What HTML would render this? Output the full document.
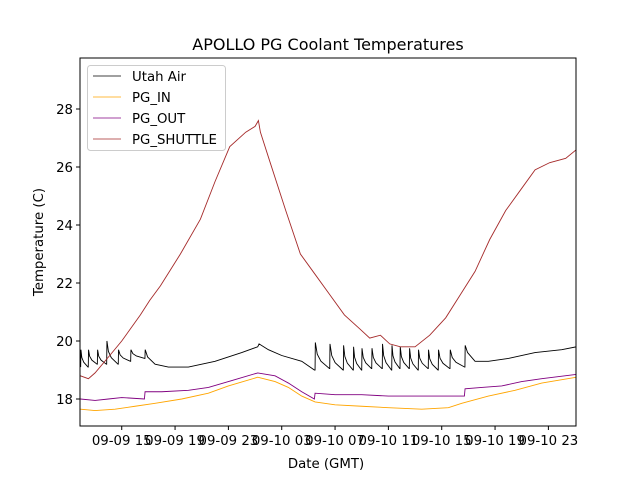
<!DOCTYPE html>
<html><head><meta charset="utf-8"><style>
body{margin:0;background:#fff}
svg{display:block;font-family:"DejaVu Sans","Liberation Sans",sans-serif}
</style></head><body>
<svg id="chart" width="640" height="480" viewBox="0 0 640 480">
<rect width="640" height="480" fill="#fff"/>
<text x="328" y="50" font-size="16" text-anchor="middle">APOLLO PG Coolant Temperatures</text>
<g id="ticks"></g>
<g id="series"></g>
<rect x="80" y="58" width="496" height="368" fill="none" stroke="#000" stroke-width="1"/>
<text x="326" y="468" font-size="13.3" text-anchor="middle">Date (GMT)</text>
<text x="43" y="242" font-size="13.3" text-anchor="middle" transform="rotate(-90 43 242)">Temperature (C)</text>
<g>
<rect x="87.5" y="65.5" width="138" height="85" rx="3" fill="#fff" fill-opacity="0.8" stroke="#ccc"/>
<g><line x1="93" y1="76" x2="121" y2="76" stroke="#000" stroke-width="0.7"/><text x="132" y="81" font-size="13.3">Utah Air</text></g>
<g><line x1="93" y1="97" x2="121" y2="97" stroke="#ffa500" stroke-width="0.7"/><text x="132" y="102" font-size="13.3">PG_IN</text></g>
<g><line x1="93" y1="118" x2="121" y2="118" stroke="#800080" stroke-width="0.7"/><text x="132" y="123" font-size="13.3">PG_OUT</text></g>
<g><line x1="93" y1="139" x2="121" y2="139" stroke="#a52a2a" stroke-width="0.7"/><text x="132" y="144" font-size="13.3">PG_SHUTTLE</text></g>
</g>
</svg>
<script>
// hours since 09-09 00:00 GMT
const xTickHours = [15, 19, 23, 27, 31, 35, 39, 43, 47];
const xTickLabels = ["09-09 15","09-09 19","09-09 23","09-10 03","09-10 07","09-10 11","09-10 15","09-10 19","09-10 23"];
const yTicks = [18, 20, 22, 24, 26, 28];
const shuttleT = [11.9,12.5,13.0,14.1,15.0,16.4,17.1,17.9,19.4,20.9,22.0,23.1,24.3,25.0,25.25,25.4,26.1,27.3,28.4,29.5,30.6,31.7,32.9,33.6,34.4,35.1,35.9,37.0,38.1,39.3,40.4,41.5,42.6,43.8,44.9,46.0,47.1,48.3,49.1];
const shuttleV = [18.8,18.7,18.9,19.5,20.0,20.9,21.4,21.9,23.0,24.2,25.5,26.7,27.2,27.4,27.6,27.2,26.2,24.5,23.0,22.3,21.6,20.9,20.4,20.1,20.2,19.9,19.8,19.8,20.2,20.8,21.6,22.4,23.5,24.5,25.2,25.9,26.15,26.3,26.6];
const airSpikeT = [11.92,12.49,13.17,13.87,14.74,15.67,16.74,29.5,30.6,31.62,32.37,33.0,33.75,34.54,35.25,35.87,36.57,37.24,37.99,38.74,39.62,40.74];
const airSpikeTop = [19.7,19.7,19.7,20.0,19.7,19.7,19.7,19.95,19.9,19.85,19.8,19.75,19.75,19.9,19.85,19.8,19.75,19.7,19.7,19.7,19.7,19.85];
const airSpikeLow = [19.1,19.1,19.2,19.2,19.2,19.3,19.4,19.0,19.05,19.0,19.0,19.0,19.05,19.05,19.0,19.05,19.05,19.0,19.05,19.0,19.05,19.1];
const airBaseT = [17.5,18.5,20.0,22.0,24.0,25.2,25.3,26.0,27.0,28.5,29.45,41.5,42.5,44.0,46.0,48.0,49.1];
const airBaseV = [19.2,19.1,19.1,19.3,19.6,19.8,19.9,19.7,19.5,19.3,19.0,19.3,19.3,19.4,19.6,19.7,19.8];
const outT = [11.9,13.0,14.0,15.0,16.7,16.75,18.0,20.0,21.5,23.0,25.2,26.5,27.5,28.5,29.45,29.5,31.0,33.0,35.0,37.0,39.0,40.7,40.75,42.0,43.5,45.0,46.5,49.1];
const outV = [18.0,17.95,18.0,18.05,18.0,18.25,18.25,18.3,18.4,18.6,18.9,18.8,18.55,18.25,18.0,18.2,18.15,18.15,18.1,18.1,18.1,18.1,18.35,18.4,18.45,18.6,18.7,18.85];
const inT = [11.9,13.0,14.5,16.0,17.5,19.5,21.5,23.0,25.2,26.5,27.5,28.5,29.5,31.0,33.0,35.0,37.5,39.5,40.5,42.5,44.5,46.5,49.1];
const inV = [17.65,17.6,17.65,17.75,17.85,18.0,18.2,18.45,18.75,18.6,18.4,18.1,17.9,17.8,17.75,17.7,17.65,17.7,17.85,18.1,18.3,18.55,18.75];

const NS = "http://www.w3.org/2000/svg";
const X0 = 80, X1 = 576, Y0 = 58, Y1 = 426;
const hMin = 11.87, hMax = 11.87 + 496 / 13.333;
const vMin = 18 - 27 / 29, vMax = 18 + 341 / 29;
const xs = h => X0 + (h - hMin) / (hMax - hMin) * (X1 - X0);
const ys = v => Y1 - (v - vMin) / (vMax - vMin) * (Y1 - Y0);

const tickG = document.getElementById('ticks');
function mk(tag, attrs, parent) { const e = document.createElementNS(NS, tag); for (const k in attrs) e.setAttribute(k, attrs[k]); parent.appendChild(e); return e; }
xTickHours.forEach((h, i) => {
  const x = xs(h);
  const l = mk('line', {x1: x, x2: x, y1: Y1, y2: Y1 + 4, stroke: '#000'}, tickG);
  
  
  const t = mk('text', {x: x, y: Y1 + 19, 'font-size': 13.3, 'text-anchor': 'middle'}, tickG);
  t.textContent = xTickLabels[i];
  
  
});
yTicks.forEach(v => {
  const y = ys(v);
  const l = mk('line', {x1: X0 - 4, x2: X0, y1: y, y2: y, stroke: '#000'}, tickG);
  
  
  const t = mk('text', {x: X0 - 7, y: y + 5, 'font-size': 13.3, 'text-anchor': 'end'}, tickG);
  t.textContent = v;
  
  
});

const sg = document.getElementById('series');
function line(T, V, color, name) {
  const d = T.map((t, i) => (i ? 'L' : 'M') + xs(t).toFixed(2) + ' ' + ys(V[i]).toFixed(2)).join(' ');
  const p = mk('path', {d: d, fill: 'none', stroke: color, 'stroke-width': 0.9, 'clip-path': 'url(#clip)'}, sg);
  
  
}
const defs = mk('defs', {}, sg);
const cp = mk('clipPath', {id: 'clip'}, defs);
mk('rect', {x: X0, y: Y0, width: X1 - X0, height: Y1 - Y0}, cp);

// build Utah Air sawtooth (fast drop then slow decay) from spike arrays + base curve
const airT = [], airV = [];
function addBase(from, to) { airBaseT.forEach((t, i) => { if (t > from && t < to) { airT.push(t); airV.push(airBaseV[i]); } }); }
airT.push(11.87); airV.push(19.3);
airSpikeT.forEach((t, i) => {
  airT.push(t); airV.push(airSpikeLow[i]);
  airT.push(t + 0.02); airV.push(airSpikeTop[i]);
  const next = i + 1 < airSpikeT.length ? airSpikeT[i + 1] : 60;
  if (next - t < 1.5) {
    const low = airSpikeLow[i + 1], top = airSpikeTop[i], span = next - t;
    airT.push(t + span * 0.15); airV.push(low + (top - low) * 0.55);
    airT.push(t + span * 0.4); airV.push(low + (top - low) * 0.28);
    airT.push(next - 0.02); airV.push(low);
  } else {
    airT.push(t + 0.2); airV.push(airSpikeTop[i] - 0.25);
    addBase(t + 0.2, next);
  }
});

line(inT, inV, '#ffa500', 'pg-in-line');
line(outT, outV, '#800080', 'pg-out-line');
line(airT, airV, '#000000', 'utah-air-line');
line(shuttleT, shuttleV, '#a52a2a', 'pg-shuttle-line');
</script>
</body></html>
